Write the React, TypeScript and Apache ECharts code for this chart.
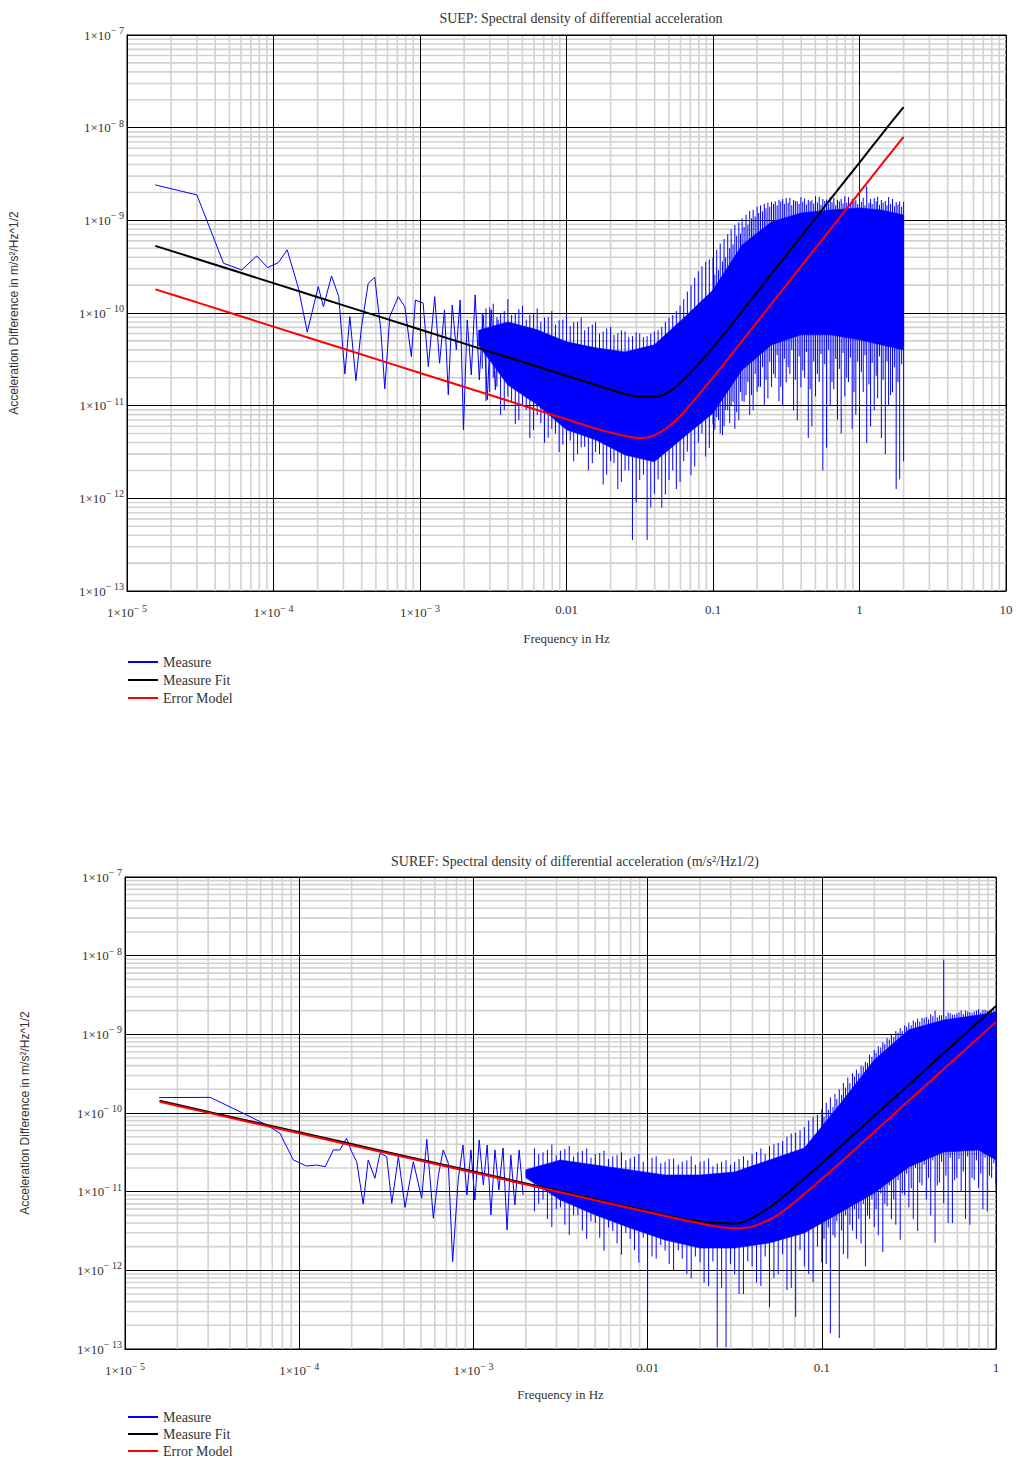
import React, { useEffect, useRef } from "react";
import * as echarts from "echarts";

// ---------- SUEP (top chart) ----------
const suepLowFreq = [1.56e-5, 3.0e-5, 4.56e-5, 6.07e-5, 7.69e-5, 9.12e-5, 1.08e-4, 1.24e-4, 1.48e-4, 1.70e-4, 2.02e-4, 2.19e-4, 2.49e-4, 2.79e-4, 3.07e-4, 3.32e-4, 3.65e-4, 3.99e-4, 4.43e-4, 4.91e-4, 5.40e-4, 5.75e-4, 6.22e-4, 7.10e-4, 7.87e-4, 8.73e-4, 9.31e-4, 1.05e-3, 1.14e-3, 1.26e-3, 1.36e-3, 1.47e-3, 1.56e-3, 1.66e-3, 1.77e-3, 1.88e-3, 1.98e-3, 2.10e-3, 2.24e-3, 2.38e-3, 2.54e-3, 2.70e-3, 2.88e-3, 3.06e-3, 3.27e-3, 3.42e-3];
const suepLowValue = [2.41e-9, 1.88e-9, 3.44e-10, 2.92e-10, 4.13e-10, 3.09e-10, 3.50e-10, 4.80e-10, 1.85e-10, 6.21e-11, 1.93e-10, 1.17e-10, 2.51e-10, 1.50e-10, 2.20e-11, 9.14e-11, 1.87e-11, 7.13e-11, 2.09e-10, 2.43e-10, 6.58e-11, 1.52e-11, 9.14e-11, 1.50e-10, 1.17e-10, 3.39e-11, 1.38e-10, 1.28e-10, 2.64e-11, 1.50e-10, 2.87e-11, 1.08e-10, 1.31e-11, 1.22e-10, 4.0e-11, 1.38e-10, 5.48e-12, 8.43e-11, 2.15e-11, 1.57e-10, 1.90e-11, 9.55e-11, 1.16e-11, 1.08e-10, 1.48e-11, 8.43e-11];

const suepBandFreq = [2.51e-3, 3.98e-3, 6.31e-3, 0.01, 0.0158, 0.0251, 0.0398, 0.0631, 0.1, 0.158, 0.251, 0.398, 0.631, 1.0, 1.41, 2.0];
const suepBandHigh = [6.5e-11, 8.02e-11, 6.58e-11, 4.88e-11, 4.21e-11, 3.80e-11, 4.53e-11, 8.85e-11, 1.77e-10, 5.43e-10, 9.62e-10, 1.20e-9, 1.29e-9, 1.36e-9, 1.29e-9, 1.14e-9];
const suepBandLow = [4.5e-11, 1.67e-11, 1.02e-11, 5.5e-12, 4.28e-12, 2.94e-12, 2.48e-12, 4.57e-12, 8.3e-12, 2.43e-11, 4.53e-11, 5.81e-11, 5.81e-11, 5.13e-11, 4.53e-11, 4.0e-11];

const suepSpikeFreq = [2.82e-3, 3.16e-3, 3.55e-3, 3.98e-3, 4.47e-3, 5.01e-3, 5.62e-3, 6.31e-3, 7.08e-3, 7.94e-3, 8.91e-3, 0.01, 0.0112, 0.0126, 0.0141, 0.0158, 0.0178, 0.02, 0.0224, 0.0251, 0.0282, 0.0316, 0.0355, 0.0398, 0.0447, 0.0501, 0.0562, 0.0631, 0.0708, 0.0794, 0.0891, 0.1, 0.112, 0.126, 0.141, 0.158, 0.178, 0.2, 0.224, 0.251, 0.282, 0.316, 0.355, 0.398, 0.447, 0.501, 0.562, 0.631, 0.708, 0.794, 0.891, 1.0, 1.12, 1.26, 1.41, 1.58, 1.78, 2.0];
const suepSpikeHigh = [1.12e-10, 1.26e-10, 1.00e-10, 1.41e-10, 1.00e-10, 1.20e-10, 9.55e-11, 1.12e-10, 8.91e-11, 1.05e-10, 8.32e-11, 9.55e-11, 7.94e-11, 8.91e-11, 7.08e-11, 7.94e-11, 6.31e-11, 7.08e-11, 6.03e-11, 6.31e-11, 5.62e-11, 6.03e-11, 5.62e-11, 6.31e-11, 7.08e-11, 8.91e-11, 1.05e-10, 1.41e-10, 2.00e-10, 2.82e-10, 3.55e-10, 3.98e-10, 5.62e-10, 7.08e-10, 8.91e-10, 1.05e-9, 1.26e-9, 1.41e-9, 1.51e-9, 1.58e-9, 1.66e-9, 1.74e-9, 1.66e-9, 1.78e-9, 1.66e-9, 1.82e-9, 1.70e-9, 1.78e-9, 1.66e-9, 1.82e-9, 1.70e-9, 2.88e-8, 2.34e-9, 1.74e-9, 1.66e-9, 1.78e-9, 1.58e-9, 1.58e-9];
const suepSpikeLow = [1.12e-11, 2.00e-11, 7.94e-12, 1.26e-11, 6.31e-12, 1.00e-11, 4.47e-12, 7.94e-12, 3.98e-12, 5.62e-12, 3.16e-12, 5.01e-12, 2.51e-12, 3.55e-12, 2.00e-12, 3.16e-12, 1.41e-12, 2.51e-12, 1.26e-12, 2.00e-12, 3.55e-13, 1.58e-12, 3.55e-13, 1.12e-12, 7.94e-13, 1.58e-12, 1.26e-12, 2.51e-12, 1.78e-12, 3.98e-12, 2.82e-12, 6.31e-12, 5.01e-12, 8.91e-12, 5.62e-12, 1.12e-11, 7.94e-12, 1.41e-11, 1.00e-11, 1.58e-11, 1.12e-11, 1.78e-11, 8.91e-12, 1.58e-11, 4.47e-12, 1.26e-11, 2.00e-12, 1.00e-11, 7.08e-12, 1.26e-11, 5.62e-12, 1.12e-11, 3.98e-12, 8.91e-12, 4.47e-12, 1.00e-11, 1.26e-12, 2.51e-12];

const suepSpike2Freq = [2.66e-3, 2.99e-3, 3.35e-3, 3.76e-3, 4.22e-3, 4.73e-3, 5.31e-3, 5.96e-3, 6.68e-3, 7.50e-3, 8.41e-3, 9.44e-3, 0.0106, 0.0119, 0.0133, 0.0150, 0.0168, 0.0188, 0.0211, 0.0237, 0.0266, 0.0299, 0.0335, 0.0376, 0.0422, 0.0473, 0.0531, 0.0596, 0.0668, 0.0750, 0.0841, 0.0944, 0.106, 0.119, 0.133, 0.150, 0.168, 0.188, 0.211, 0.237, 0.266, 0.299, 0.335, 0.376, 0.422, 0.473, 0.531, 0.596, 0.668, 0.750, 0.841, 0.944, 1.06, 1.19, 1.33, 1.50, 1.68, 1.88];
const suepSpike2High = [1.0e-10, 1.15e-10, 9.0e-11, 1.05e-10, 9.5e-11, 1.1e-10, 8.5e-11, 1.0e-10, 8.0e-11, 9.0e-11, 7.5e-11, 8.5e-11, 7.2e-11, 8.0e-11, 6.5e-11, 7.5e-11, 6.0e-11, 6.8e-11, 5.8e-11, 6.5e-11, 5.5e-11, 6.2e-11, 5.5e-11, 6.0e-11, 6.5e-11, 8.0e-11, 9.5e-11, 1.2e-10, 1.7e-10, 2.4e-10, 3.2e-10, 3.8e-10, 4.8e-10, 6.3e-10, 8.0e-10, 9.5e-10, 1.15e-9, 1.3e-9, 1.45e-9, 1.55e-9, 1.6e-9, 1.7e-9, 1.75e-9, 1.6e-9, 1.72e-9, 1.65e-9, 1.8e-9, 1.68e-9, 1.75e-9, 1.7e-9, 1.78e-9, 1.65e-9, 1.75e-9, 1.7e-9, 1.8e-9, 1.62e-9, 1.7e-9, 1.6e-9];
const suepSpike2Low = [2.5e-11, 1.4e-11, 1.6e-11, 9.0e-12, 1.1e-11, 7.0e-12, 9.0e-12, 5.5e-12, 6.5e-12, 4.5e-12, 5.0e-12, 3.8e-12, 4.2e-12, 3.0e-12, 3.6e-12, 2.4e-12, 3.0e-12, 1.8e-12, 2.4e-12, 1.5e-12, 2.0e-12, 9.0e-13, 1.8e-12, 8.0e-13, 1.6e-12, 1.1e-12, 2.0e-12, 1.5e-12, 3.2e-12, 2.2e-12, 5.0e-12, 3.5e-12, 7.5e-12, 6.0e-12, 1.0e-11, 7.0e-12, 1.3e-11, 9.0e-12, 1.6e-11, 1.2e-11, 2.0e-11, 1.0e-11, 2.2e-11, 7.0e-12, 2.0e-11, 6.0e-12, 1.8e-11, 3.5e-12, 1.5e-11, 5.0e-12, 1.8e-11, 8.0e-12, 1.4e-11, 6.0e-12, 1.2e-11, 3.0e-12, 1.4e-11, 1.6e-12];

const suepSpike3Freq = [0.103, 0.109, 0.116, 0.122, 0.130, 0.137, 0.145, 0.154, 0.163, 0.173, 0.183, 0.194, 0.205, 0.218, 0.230, 0.244, 0.259, 0.274, 0.290, 0.307, 0.326, 0.345, 0.365, 0.387, 0.410, 0.434, 0.460, 0.487, 0.516, 0.546, 0.579, 0.613, 0.649, 0.688, 0.729, 0.772, 0.818, 0.866, 0.917, 0.972, 1.03, 1.09, 1.16, 1.22, 1.30, 1.37, 1.45, 1.54, 1.63, 1.73, 1.83, 1.94];
const suepSpike3High = [2.6e-10, 2.9e-10, 3.6e-10, 4.0e-10, 5.0e-10, 5.5e-10, 6.8e-10, 7.2e-10, 8.5e-10, 9.0e-10, 1.05e-9, 1.1e-9, 1.2e-9, 1.25e-9, 1.35e-9, 1.4e-9, 1.5e-9, 1.45e-9, 1.6e-9, 1.5e-9, 1.55e-9, 1.45e-9, 1.62e-9, 1.5e-9, 1.58e-9, 1.48e-9, 1.6e-9, 1.52e-9, 1.56e-9, 1.47e-9, 1.62e-9, 1.5e-9, 1.57e-9, 1.46e-9, 1.6e-9, 1.52e-9, 1.55e-9, 1.48e-9, 1.6e-9, 1.5e-9, 1.58e-9, 1.45e-9, 1.55e-9, 1.5e-9, 1.6e-9, 1.47e-9, 1.55e-9, 1.45e-9, 1.5e-9, 1.42e-9, 1.48e-9, 1.4e-9];
const suepSpike3Low = [5.5e-12, 7.0e-12, 4.8e-12, 9.0e-12, 6.5e-12, 1.1e-11, 8.5e-12, 1.4e-11, 1.1e-11, 1.8e-11, 1.3e-11, 2.2e-11, 1.6e-11, 2.6e-11, 1.9e-11, 3.0e-11, 2.2e-11, 3.5e-11, 1.6e-11, 3.2e-11, 2.6e-11, 4.0e-11, 1.9e-11, 3.4e-11, 2.4e-11, 3.8e-11, 1.5e-11, 3.0e-11, 2.2e-11, 3.6e-11, 2.8e-11, 4.0e-11, 1.8e-11, 3.2e-11, 2.5e-11, 3.7e-11, 2.0e-11, 3.3e-11, 1.4e-11, 3.0e-11, 2.3e-11, 3.5e-11, 1.7e-11, 2.9e-11, 2.1e-11, 3.4e-11, 1.9e-11, 3.0e-11, 1.3e-11, 2.6e-11, 1.8e-11, 2.8e-11];

const suepFitFreq = [1.56e-5, 3.16e-5, 1e-4, 3.16e-4, 1e-3, 3.16e-3, 0.01, 0.0178, 0.0316, 0.0398, 0.0562, 0.1, 0.178, 0.316, 0.562, 1.0, 1.41, 2.0];
const suepFitValue = [5.30e-10, 3.73e-10, 2.10e-10, 1.18e-10, 6.64e-11, 3.73e-11, 2.10e-11, 1.58e-11, 1.25e-11, 1.245e-11, 1.60e-11, 4.25e-11, 1.33e-10, 4.20e-10, 1.33e-9, 4.20e-9, 8.38e-9, 1.67e-8];
const suepModelValue = [1.80e-10, 1.27e-10, 7.13e-11, 4.01e-11, 2.25e-11, 1.27e-11, 7.13e-12, 5.38e-12, 4.48e-12, 4.78e-12, 7.0e-12, 2.01e-11, 6.32e-11, 2.0e-10, 6.32e-10, 2.0e-9, 3.99e-9, 7.96e-9];

// ---------- SUREF (bottom chart) ----------
const surefLowFreq = [1.57e-5, 3.08e-5, 4.78e-5, 6.50e-5, 7.76e-5, 9.25e-5, 1.10e-4, 1.26e-4, 1.41e-4, 1.57e-4, 1.71e-4, 1.87e-4, 2.0e-4, 2.14e-4, 2.33e-4, 2.49e-4, 2.72e-4, 2.91e-4, 3.18e-4, 3.40e-4, 3.71e-4, 4.05e-4, 4.52e-4, 5.05e-4, 5.40e-4, 5.89e-4, 6.30e-4, 6.71e-4, 7.18e-4, 7.60e-4, 8.18e-4, 8.71e-4, 9.18e-4, 9.68e-4, 1.02e-3, 1.08e-3, 1.14e-3, 1.20e-3, 1.26e-3, 1.33e-3, 1.40e-3, 1.48e-3, 1.56e-3, 1.64e-3, 1.73e-3, 1.83e-3, 1.93e-3];
const surefLowValue = [1.57e-10, 1.58e-10, 9.91e-11, 7.05e-11, 5.52e-11, 2.53e-11, 2.12e-11, 2.18e-11, 2.08e-11, 3.39e-11, 3.39e-11, 4.78e-11, 3.22e-11, 2.40e-11, 6.97e-12, 2.53e-11, 1.48e-11, 3.08e-11, 2.79e-11, 7.11e-12, 2.79e-11, 6.32e-12, 2.40e-11, 8.24e-12, 4.63e-11, 4.59e-12, 1.63e-11, 3.39e-11, 2.30e-11, 1.29e-12, 1.41e-11, 3.92e-11, 9.08e-12, 3.39e-11, 7.83e-12, 4.54e-11, 1.22e-11, 3.92e-11, 5.06e-12, 3.39e-11, 1.05e-11, 3.59e-11, 3.26e-12, 2.92e-11, 6.78e-12, 3.39e-11, 9.08e-12];

const surefBandFreq = [2.00e-3, 3.16e-3, 5.01e-3, 7.94e-3, 0.0126, 0.02, 0.0316, 0.0501, 0.0794, 0.126, 0.2, 0.316, 0.501, 0.794, 1.0];
const surefBandHigh = [1.9e-11, 2.53e-11, 2.18e-11, 1.89e-11, 1.63e-11, 1.63e-11, 1.78e-11, 2.53e-11, 3.59e-11, 1.26e-10, 4.72e-10, 1.14e-9, 1.52e-9, 1.76e-9, 1.92e-9];
const surefBandLow = [1.5e-11, 7.83e-12, 5.06e-12, 3.45e-12, 2.43e-12, 1.92e-12, 1.92e-12, 2.23e-12, 2.99e-12, 5.36e-12, 9.62e-12, 2.06e-11, 3.19e-11, 3.39e-11, 2.53e-11];

const surefSpikeFreq = [2.24e-3, 2.51e-3, 2.82e-3, 3.16e-3, 3.55e-3, 3.98e-3, 4.47e-3, 5.01e-3, 5.62e-3, 6.31e-3, 7.08e-3, 7.94e-3, 8.91e-3, 0.01, 0.0112, 0.0126, 0.0141, 0.0158, 0.0178, 0.02, 0.0224, 0.0251, 0.0282, 0.0316, 0.0355, 0.0398, 0.0447, 0.0501, 0.0562, 0.0631, 0.0708, 0.0794, 0.0891, 0.1, 0.112, 0.126, 0.141, 0.158, 0.178, 0.2, 0.224, 0.251, 0.282, 0.316, 0.355, 0.398, 0.447, 0.501, 0.562, 0.631, 0.708, 0.794, 0.891, 1.0];
const surefSpikeHigh = [3.55e-11, 3.16e-11, 3.98e-11, 3.31e-11, 3.80e-11, 3.16e-11, 3.55e-11, 3.02e-11, 3.31e-11, 2.82e-11, 3.16e-11, 2.63e-11, 3.02e-11, 2.63e-11, 2.82e-11, 2.40e-11, 2.63e-11, 2.40e-11, 2.82e-11, 2.40e-11, 2.63e-11, 2.29e-11, 2.51e-11, 2.40e-11, 2.82e-11, 3.02e-11, 3.55e-11, 3.80e-11, 4.17e-11, 5.01e-11, 5.62e-11, 6.61e-11, 8.91e-11, 1.12e-10, 1.58e-10, 2.00e-10, 2.82e-10, 3.55e-10, 4.47e-10, 6.31e-10, 7.94e-10, 1.00e-9, 1.20e-9, 1.41e-9, 1.58e-9, 1.66e-9, 2.00e-9, 8.91e-9, 1.78e-9, 2.00e-9, 1.91e-9, 2.09e-9, 2.00e-9, 2.09e-9];
const surefSpikeLow = [5.62e-12, 7.94e-12, 3.55e-12, 6.31e-12, 2.82e-12, 5.01e-12, 2.51e-12, 3.98e-12, 1.78e-12, 3.16e-12, 1.58e-12, 2.51e-12, 1.26e-12, 3.16e-13, 1.41e-12, 1.78e-12, 1.00e-12, 1.41e-12, 7.94e-13, 1.26e-12, 6.31e-13, 1.05e-13, 1.05e-13, 8.91e-13, 5.01e-13, 1.12e-12, 6.31e-13, 3.39e-13, 8.91e-13, 5.62e-13, 2.57e-13, 1.12e-12, 7.08e-13, 1.26e-12, 1.58e-13, 1.38e-13, 1.41e-12, 2.51e-12, 1.12e-12, 3.55e-12, 1.70e-12, 4.47e-12, 2.45e-12, 6.31e-12, 3.16e-12, 7.94e-12, 2.24e-12, 7.08e-12, 3.98e-12, 1.00e-11, 3.80e-12, 1.12e-11, 5.62e-12, 1.26e-11];

const surefSpike2Freq = [2.37e-3, 2.66e-3, 2.99e-3, 3.35e-3, 3.76e-3, 4.22e-3, 4.73e-3, 5.31e-3, 5.96e-3, 6.68e-3, 7.50e-3, 8.41e-3, 9.44e-3, 0.0106, 0.0119, 0.0133, 0.0150, 0.0168, 0.0188, 0.0211, 0.0237, 0.0266, 0.0299, 0.0335, 0.0376, 0.0422, 0.0473, 0.0531, 0.0596, 0.0668, 0.0750, 0.0841, 0.0944, 0.106, 0.119, 0.133, 0.150, 0.168, 0.188, 0.211, 0.237, 0.266, 0.299, 0.335, 0.376, 0.422, 0.473, 0.531, 0.596, 0.668, 0.750, 0.841, 0.944];
const surefSpike2High = [3.0e-11, 3.4e-11, 2.9e-11, 3.5e-11, 2.8e-11, 3.3e-11, 2.7e-11, 3.1e-11, 2.6e-11, 2.9e-11, 2.5e-11, 2.8e-11, 2.4e-11, 2.7e-11, 2.3e-11, 2.6e-11, 2.2e-11, 2.5e-11, 2.2e-11, 2.45e-11, 2.1e-11, 2.4e-11, 2.2e-11, 2.6e-11, 2.5e-11, 3.2e-11, 3.0e-11, 4.0e-11, 4.4e-11, 5.5e-11, 6.0e-11, 8.0e-11, 9.5e-11, 1.35e-10, 1.75e-10, 2.4e-10, 3.2e-10, 4.0e-10, 5.5e-10, 7.0e-10, 9.0e-10, 1.1e-9, 1.3e-9, 1.5e-9, 1.62e-9, 1.8e-9, 1.75e-9, 1.9e-9, 1.85e-9, 2.0e-9, 1.95e-9, 2.05e-9, 2.0e-9];
const surefSpike2Low = [7.0e-12, 4.5e-12, 6.0e-12, 3.8e-12, 5.0e-12, 3.2e-12, 4.2e-12, 2.6e-12, 3.5e-12, 2.2e-12, 3.0e-12, 1.8e-12, 2.6e-12, 1.5e-12, 2.1e-12, 1.2e-12, 1.8e-12, 9.0e-13, 1.5e-12, 7.0e-13, 1.3e-12, 6.0e-13, 1.2e-12, 5.0e-13, 1.3e-12, 7.0e-13, 1.5e-12, 8.0e-13, 1.6e-12, 6.0e-13, 1.8e-12, 9.0e-13, 2.0e-12, 1.2e-12, 2.6e-12, 1.6e-12, 3.2e-12, 2.2e-12, 4.5e-12, 2.8e-12, 6.5e-12, 3.8e-12, 9.0e-12, 4.5e-12, 1.2e-11, 5.0e-12, 1.3e-11, 4.0e-12, 1.5e-11, 4.5e-12, 1.4e-11, 6.0e-12, 1.5e-11];

const surefSpike3Freq = [0.103, 0.109, 0.116, 0.122, 0.130, 0.137, 0.145, 0.154, 0.163, 0.173, 0.183, 0.194, 0.205, 0.218, 0.230, 0.244, 0.259, 0.274, 0.290, 0.307, 0.326, 0.345, 0.365, 0.387, 0.410, 0.434, 0.460, 0.487, 0.516, 0.546, 0.579, 0.613, 0.649, 0.688, 0.729, 0.772, 0.818, 0.866, 0.917, 0.972];
const surefSpike3High = [9.0e-11, 1.1e-10, 1.2e-10, 1.5e-10, 1.7e-10, 2.1e-10, 2.4e-10, 2.9e-10, 3.2e-10, 3.9e-10, 4.3e-10, 5.2e-10, 5.8e-10, 6.8e-10, 7.5e-10, 8.6e-10, 9.2e-10, 1.05e-9, 1.1e-9, 1.25e-9, 1.3e-9, 1.42e-9, 1.45e-9, 1.6e-9, 1.55e-9, 1.7e-9, 1.65e-9, 1.75e-9, 1.7e-9, 1.85e-9, 1.78e-9, 1.9e-9, 1.82e-9, 1.95e-9, 1.88e-9, 2.0e-9, 1.9e-9, 2.05e-9, 1.95e-9, 2.05e-9];
const surefSpike3Low = [2.5e-12, 3.5e-12, 2.8e-12, 4.2e-12, 3.2e-12, 5.0e-12, 3.8e-12, 6.0e-12, 4.5e-12, 7.0e-12, 5.0e-12, 8.0e-12, 6.0e-12, 9.5e-12, 7.0e-12, 1.2e-11, 8.0e-12, 1.4e-11, 9.5e-12, 1.7e-11, 1.1e-11, 2.0e-11, 1.3e-11, 2.2e-11, 1.5e-11, 2.5e-11, 1.2e-11, 2.4e-11, 1.6e-11, 2.7e-11, 1.4e-11, 2.6e-11, 1.8e-11, 2.8e-11, 1.5e-11, 2.5e-11, 1.7e-11, 2.7e-11, 1.6e-11, 2.3e-11];

const surefFitFreq = [1.58e-5, 3.16e-5, 1e-4, 3.16e-4, 1e-3, 3.16e-3, 0.01, 0.0178, 0.0316, 0.0398, 0.0562, 0.1, 0.178, 0.316, 0.562, 1.0];
const surefFitValue = [1.43e-10, 1.01e-10, 5.69e-11, 3.20e-11, 1.80e-11, 1.01e-11, 5.69e-12, 4.33e-12, 3.94e-12, 4.61e-12, 7.64e-12, 2.30e-11, 7.24e-11, 2.29e-10, 7.24e-10, 2.29e-9];
const surefModelValue = [1.39e-10, 9.82e-11, 5.52e-11, 3.10e-11, 1.75e-11, 9.82e-12, 5.52e-12, 4.17e-12, 3.42e-12, 3.58e-12, 5.11e-12, 1.45e-11, 4.54e-11, 1.44e-10, 4.54e-10, 1.44e-9];

// ---------- labels ----------
const titles = [
  "SUEP: Spectral density of differential acceleration",
  "SUREF: Spectral density of differential acceleration (m/s²/Hz1/2)",
];
const xName = "Frequency in Hz";
const yName = "Acceleration Difference in m/s²/Hz^1/2";
const legendNames = ["Measure", "Measure Fit", "Error Model"];
const legendColors = ["#0000ff", "#000000", "#ff0000"];
const minorMantissas = [2, 3, 4, 5, 6, 7, 8, 9];

const SERIF = '"Liberation Serif", "Times New Roman", serif';
const SANS = '"Liberation Sans", Arial, sans-serif';
const TXT = "#333333";
const BLUE = "#0000ff";

function minorValues(e0: number, e1: number) {
  const out: number[] = [];
  for (let e = e0; e < e1; e++) for (const m of minorMantissas) out.push(m * Math.pow(10, e));
  return out;
}

function powLabel(v: number) {
  const e = Math.round(Math.log10(v));
  if (e >= -2) return `{b|${Math.pow(10, e)}}`;
  return `{b|1×10}{s|− ${-e}}`;
}
function powLabelY(v: number) {
  const e = Math.round(Math.log10(v));
  return `{b|1×10}{s|− ${-e}}`;
}

const rich = {
  b: { fontFamily: SERIF, fontSize: 13, color: TXT },
  s: { fontFamily: SERIF, fontSize: 10, color: TXT, padding: [0, 0, 9, 0] },
};

function mkX(gi: number, max: number, nameGap: number) {
  return {
    type: "log", logBase: 10, gridIndex: gi, min: 1e-5, max,
    name: xName, nameLocation: "middle", nameGap,
    nameTextStyle: { fontFamily: SERIF, fontSize: 13, color: TXT },
    axisLine: { show: true, lineStyle: { color: "#000", width: 1 } },
    axisTick: { show: false },
    splitLine: { show: true, lineStyle: { color: "#000", width: 1 } },
    axisLabel: { margin: 12, formatter: powLabel, rich, showMinLabel: true, showMaxLabel: true, color: TXT, fontFamily: SERIF, fontSize: 13 },
    z: 1,
  };
}
function mkY(gi: number, nameGap: number) {
  return {
    type: "log", logBase: 10, gridIndex: gi, min: 1e-13, max: 1e-7,
    name: yName, nameLocation: "middle", nameGap, nameRotate: 90,
    nameTextStyle: { fontFamily: SANS, fontSize: 12, color: TXT },
    axisLine: { show: true, lineStyle: { color: "#000", width: 1 } },
    axisTick: { show: false },
    splitLine: { show: true, lineStyle: { color: "#000", width: 1 } },
    axisLabel: { margin: 3, formatter: powLabelY, rich, showMinLabel: true, showMaxLabel: true },
    z: 1,
  };
}

// minor grid lines, placed through the axes' own scales
function minorGridSeries(gi: number, vals: number[], vertical: boolean) {
  return {
    type: "custom", name: "minorGrid", xAxisIndex: gi, yAxisIndex: gi, z: 0, silent: true,
    data: vals.map((v) => [v]),
    encode: vertical ? { x: 0 } : { y: 0 },
    renderItem: (params: any, api: any) => {
      const cs = params.coordSys;
      const v = api.value(0);
      const style = { stroke: "#d2d2d2", lineWidth: 1.6 };
      if (vertical) {
        const px = api.coord([v, 1e-10])[0];
        return { type: "line", shape: { x1: px, y1: cs.y, x2: px, y2: cs.y + cs.height }, style };
      }
      const py = api.coord([1e-3, v])[1];
      return { type: "line", shape: { x1: cs.x, y1: py, x2: cs.x + cs.width, y2: py }, style };
    },
  };
}

function bandSeries(gi: number, freq: number[], hi: number[], lo: number[]) {
  return {
    type: "custom", name: "Measure", xAxisIndex: gi, yAxisIndex: gi, z: 2,
    data: freq.map((f, i) => [f, hi[i], lo[i]]),
    encode: { x: 0, y: [1, 2] },
    renderItem: (params: any, api: any) => {
      const i = params.dataIndex;
      if (i >= freq.length - 1) return null;
      const a = api.coord([freq[i], hi[i]]);
      const b = api.coord([freq[i + 1], hi[i + 1]]);
      const c = api.coord([freq[i + 1], lo[i + 1]]);
      const d = api.coord([freq[i], lo[i]]);
      return {
        type: "polygon",
        shape: { points: [a, b, c, d] },
        style: { fill: BLUE, stroke: BLUE, lineWidth: 0.6 },
      };
    },
  };
}

function spikeSeries(gi: number, freq: number[], hi: number[], lo: number[]) {
  return {
    type: "custom", name: "Measure", xAxisIndex: gi, yAxisIndex: gi, z: 3,
    data: freq.map((f, i) => [f, hi[i], lo[i]]),
    encode: { x: 0, y: [1, 2] },
    renderItem: (params: any, api: any) => {
      const p1 = api.coord([api.value(0), api.value(1)]);
      const p2 = api.coord([api.value(0), api.value(2)]);
      return {
        type: "line",
        shape: { x1: p1[0], y1: p1[1], x2: p2[0], y2: p2[1] },
        style: { stroke: BLUE, lineWidth: 1 },
      };
    },
  };
}

function lineSeries(gi: number, name: string, xs: number[], ys: number[], color: string, width: number, z: number, smooth: number) {
  return {
    type: "line", name, xAxisIndex: gi, yAxisIndex: gi, z,
    data: xs.map((x, i) => [x, ys[i]]),
    showSymbol: false, symbol: "none", smooth,
    lineStyle: { color, width },
    itemStyle: { color },
  };
}

function legendFor(top: number, gap: number) {
  return {
    orient: "vertical", left: 128, top, height: 70, itemWidth: 30, itemHeight: 2, itemGap: gap, padding: 0,
    selectedMode: false,
    textStyle: { fontFamily: SERIF, fontSize: 14, color: TXT },
    data: legendNames.map((n, i) => ({ name: n, icon: "rect", itemStyle: { color: legendColors[i] } })),
  };
}

export default function App() {
  const ref = useRef<HTMLDivElement>(null);
  useEffect(() => {
    if (!ref.current) return;
    const chart = echarts.init(ref.current, undefined, { renderer: "svg" });
    const option: any = {
      animation: false,
      backgroundColor: "#ffffff",
      grid: [
        { left: 125, top: 35, width: 881, height: 556, show: true, borderColor: "#000", borderWidth: 1, backgroundColor: "rgba(0,0,0,0)" },
        { left: 125, top: 877, width: 871, height: 472, show: true, borderColor: "#000", borderWidth: 1, backgroundColor: "rgba(0,0,0,0)" },
      ],
      xAxis: [mkX(0, 10, 41), mkX(1, 1, 39)],
      yAxis: [mkY(0, 107), mkY(1, 94)],
      legend: [legendFor(655, 4), legendFor(1410, 3)],
      graphic: [
        { type: "text", x: 581, y: 18, style: { text: titles[0], fontFamily: SERIF, fontSize: 14, fill: TXT, textAlign: "center", textVerticalAlign: "middle" } },
        { type: "text", x: 575, y: 861, style: { text: titles[1], fontFamily: SERIF, fontSize: 14, fill: TXT, textAlign: "center", textVerticalAlign: "middle" } },
      ],
      series: [
        minorGridSeries(0, minorValues(-5, 1), true),
        minorGridSeries(0, minorValues(-13, -7), false),
        minorGridSeries(1, minorValues(-5, 0), true),
        minorGridSeries(1, minorValues(-13, -7), false),
        lineSeries(0, "Measure", suepLowFreq, suepLowValue, BLUE, 1, 2, 0),
        bandSeries(0, suepBandFreq, suepBandHigh, suepBandLow),
        spikeSeries(0, suepSpikeFreq, suepSpikeHigh, suepSpikeLow),
        spikeSeries(0, suepSpike2Freq, suepSpike2High, suepSpike2Low),
        spikeSeries(0, suepSpike3Freq, suepSpike3High, suepSpike3Low),
        lineSeries(0, "Measure Fit", suepFitFreq, suepFitValue, "#000000", 2, 5, 0.3),
        lineSeries(0, "Error Model", suepFitFreq, suepModelValue, "#ff0000", 2, 6, 0.3),
        lineSeries(1, "Measure", surefLowFreq, surefLowValue, BLUE, 1, 2, 0),
        bandSeries(1, surefBandFreq, surefBandHigh, surefBandLow),
        spikeSeries(1, surefSpikeFreq, surefSpikeHigh, surefSpikeLow),
        spikeSeries(1, surefSpike2Freq, surefSpike2High, surefSpike2Low),
        spikeSeries(1, surefSpike3Freq, surefSpike3High, surefSpike3Low),
        lineSeries(1, "Measure Fit", surefFitFreq, surefFitValue, "#000000", 2, 5, 0.3),
        lineSeries(1, "Error Model", surefFitFreq, surefModelValue, "#ff0000", 2, 6, 0.3),
      ],
    };
    chart.setOption(option);
    return () => chart.dispose();
  }, []);
  return <div ref={ref} style={{ position: "absolute", left: 0, top: 0, width: 1021, height: 1458 }} />;
}
